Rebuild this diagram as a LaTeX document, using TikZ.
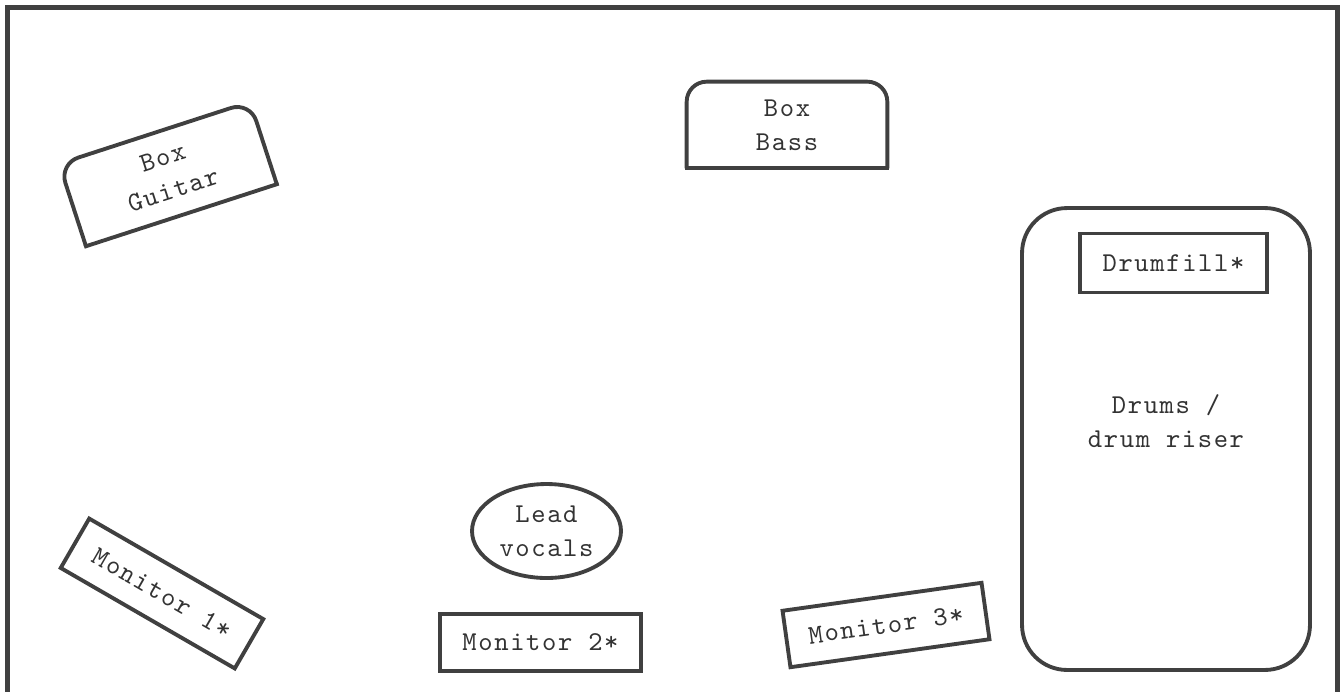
\documentclass[tikz,border=0pt]{standalone}
\usepackage{fontspec}
\setmonofont{lmmono10-regular}[Extension=.otf, LetterSpace=6]
\usepackage{tikz}
\usetikzlibrary{shapes.geometric, positioning}
\definecolor{inkgray}{RGB}{64,64,64}
\tikzset{
	outline/.style={draw=inkgray, line width=2.2pt},
	monitor/.style={outline, minimum width=4.02cm, minimum height=1.14cm},
	amp/.style={minimum width=4cm, minimum height=1.72cm, align=center},
	riser/.style={outline, rounded corners=0.9cm, minimum width=5.76cm, minimum height=9.24cm},
	singer/.style={outline, ellipse, minimum width=2.98cm, minimum height=1.88cm, align=center, inner sep=0pt}
}

\begin{document}
\begin{tikzpicture}[x=0.02cm, y=-0.02cm, font=\ttfamily\fontsize{15.5}{19.3}\selectfont, text=inkgray!80!black]
		\useasboundingbox (0,0) rectangle (1342,691);
		\clip (0,0) rectangle (1342,691);
		
		% stage outline
		\draw[draw=inkgray, line width=2.8pt] (7.5,7.5) rectangle (1337.5,720);
		
		% back line
		\node[amp, rotate=18] (guitar) at (168,174) {Box\\Guitar};
		\node[amp] (bass) at (787,125) {Box\\Bass};
		\foreach \amp in {guitar, bass} {
			\draw[outline, rounded corners=0.4cm] (\amp.south west) -- (\amp.north west) -- (\amp.north east) -- (\amp.south east);
			\draw[outline, line cap=rect] (\amp.south west) -- (\amp.south east);
		}
		
		% drums
		\node[riser] (riser) at (1166,439) {};
		\node[outline, minimum width=3.74cm, minimum height=1.18cm] (drumfill) at (1173.5,263) {Drumfill*};
		\node[align=center] (drums) at (1166,421) {Drums /\\drum riser};
		
		% front line
		\node[singer] (vocals) at (546.5,531) {Lead\\vocals};
		\node[monitor, rotate=-30] (mon1) at (162,593.5) {Monitor 1*};
		\node[monitor] (mon2) at (540.5,642.5) {Monitor 2*};
		\node[monitor, rotate=8] (mon3) at (886,625) {Monitor 3*};
	\end{tikzpicture}
\end{document}
